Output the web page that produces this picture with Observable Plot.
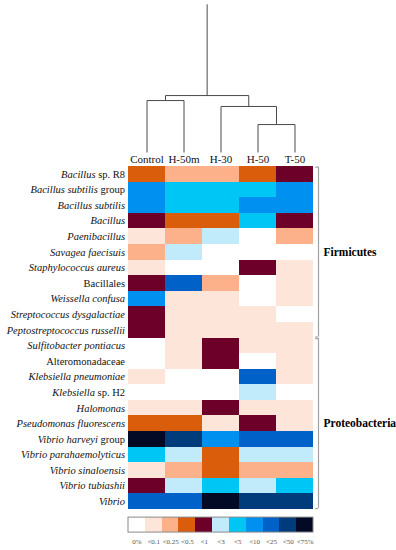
<!DOCTYPE html>
<html><head><meta charset="utf-8">
<script src="https://cdn.jsdelivr.net/npm/d3@7"></script>
<script src="https://cdn.jsdelivr.net/npm/@observablehq/plot@0.6"></script>
<style>html,body{margin:0;padding:0;background:#fff;} #chart{width:396px;height:550px;overflow:hidden;}
#chart svg text{font-family:"Liberation Serif","Times New Roman",serif;}</style>
</head><body><div id="chart"></div>
<script>
// ---- data ----
const samples = ["Control", "H-50m", "H-30", "H-50", "T-50"];
const taxaItalic = ["Bacillus", "Bacillus subtilis", "Bacillus subtilis", "Bacillus", "Paenibacillus",
  "Savagea faecisuis", "Staphylococcus aureus", "", "Weissella confusa", "Streptococcus dysgalactiae",
  "Peptostreptococcus russellii", "Sulfitobacter pontiacus", "", "Klebsiella pneumoniae", "Klebsiella",
  "Halomonas", "Pseudomonas fluorescens", "Vibrio harveyi", "Vibrio parahaemolyticus", "Vibrio sinaloensis",
  "Vibrio tubiashii", "Vibrio"];
const taxaSuffix = [" sp. R8", " group", "", "", "", "", "", "Bacillales", "", "", "", "", "Alteromonadaceae",
  "", " sp. H2", "", "", " group", "", "", "", ""];
const abundanceLevels = ["0%", "<0.1", "<0.25", "<0.5", "<1", "<3", "<5", "<10", "<25", "<50", "<75%"];
const levelColors = ["#ffffff", "#fde6d9", "#fdb18a", "#da5d0c", "#6c0028", "#c1ebfb", "#00c6f6",
  "#0090f0", "#0061c9", "#003b7c", "#020a26"];
// abundance class index (into abundanceLevels) per taxon, one array per sample
const levelControl = [3, 7, 7, 4, 1, 2, 1, 4, 7, 4, 4, 0, 0, 1, 0, 1, 3, 10, 6, 1, 4, 8];
const levelH50m    = [2, 6, 6, 3, 2, 5, 0, 8, 1, 1, 1, 1, 1, 0, 0, 1, 3, 9, 5, 2, 5, 8];
const levelH30     = [2, 6, 6, 3, 5, 0, 0, 2, 1, 1, 1, 4, 4, 0, 0, 4, 1, 7, 3, 3, 6, 10];
const levelH50     = [3, 6, 7, 6, 0, 0, 4, 0, 0, 1, 1, 1, 0, 8, 5, 1, 4, 8, 5, 2, 5, 9];
const levelT50     = [4, 7, 7, 4, 2, 0, 1, 1, 1, 0, 1, 1, 1, 1, 0, 1, 1, 8, 5, 2, 6, 9];
const phyla = ["Firmicutes", "Proteobacteria"];
const phylumStart = [0, 11];
const phylumEnd = [11, 22];
// dendrogram (relative linkage heights)
const clusterIds = ["A", "B", "C", "root"];
const clusterLeft = ["Control", "H-50", "H-30", "A"];
const clusterRight = ["H-50m", "T-50", "B", "C"];
const clusterHeight = [3.33, 1.79, 2.95, 3.65];
const rootStemHeight = 9.5;

// ---- build ----
const serif = "Liberation Serif";
const taxa = taxaItalic.map((t, i) => ({i, name: t + taxaSuffix[i]}));
const sampleLevels = [levelControl, levelH50m, levelH30, levelH50, levelT50];
const cells = [];
sampleLevels.forEach((arr, c) => arr.forEach((lv, r) => cells.push({c, r, lv})));
const groups = phyla.map((p, i) => ({name: p, start: phylumStart[i], end: phylumEnd[i]}));

const leafTop = -0.9;
const nodes = new Map(samples.map((s, i) => [s, {x: i + 0.5, h: 0}]));
const segs = [];
clusterIds.forEach((id, k) => {
  const L = nodes.get(clusterLeft[k]), R = nodes.get(clusterRight[k]), h = clusterHeight[k];
  segs.push({x1: L.x, x2: L.x, h1: L.h, h2: h});
  segs.push({x1: R.x, x2: R.x, h1: R.h, h2: h});
  segs.push({x1: L.x, x2: R.x, h1: h, h2: h});
  nodes.set(id, {x: (L.x + R.x) / 2, h});
});
const root = nodes.get("root");
segs.push({x1: root.x, x2: root.x, h1: root.h, h2: rootStemHeight});

const nL = abundanceLevels.length;
const legendTop = 22.52, legendBottom = 23.48;
const legend = abundanceLevels.map((l, i) => ({i, l}));

const plot = Plot.plot({
  width: 396, height: 550,
  marginTop: 166, marginBottom: 41, marginLeft: 128, marginRight: 83,
  x: {domain: [0, 5], axis: null},
  y: {domain: [0, 22], reverse: true, axis: null},
  color: {type: "ordinal", domain: d3.range(nL), range: levelColors},
  style: {background: "#fff", color: "#000"},
  marks: [
    Plot.rect(cells, {x1: d => d.c, x2: d => d.c + 1, y1: d => d.r, y2: d => d.r + 1, fill: d => d.lv,
      inset: 0, shapeRendering: "crispEdges"}),
    Plot.link(segs, {x1: "x1", x2: "x2", y1: d => leafTop - d.h1, y2: d => leafTop - d.h2,
      stroke: "#4a4a4a", strokeWidth: 1}),
    Plot.text(samples, {x: (d, i) => i + 0.5, y: 0, dy: -7, text: d => d, fontSize: 11, fill: "#111",
      fontFamily: serif}),
    Plot.text(taxa, {x: 0, y: d => d.i + 0.5, dx: -3.5, text: "name", textAnchor: "end", fontSize: 10.5,
      fill: "#111", fontFamily: serif}),
    Plot.ruleX(groups, {x: 5, y1: d => d.start + 0.04, y2: d => d.end - 0.06, dx: 5, stroke: "#a0a0a0", strokeWidth: 1.2}),
    Plot.ruleY(groups, {y: d => d.start + 0.04, x1: 5.06, x2: 5.135, stroke: "#a0a0a0", strokeWidth: 1.2}),
    Plot.ruleY(groups, {y: d => d.end - 0.06, x1: 5.06, x2: 5.135, stroke: "#a0a0a0", strokeWidth: 1.2}),
    Plot.text(groups, {x: 5, y: d => (d.start + d.end) / 2, dx: 10, text: "name", textAnchor: "start",
      fontWeight: "bold", fontSize: 11.5, fill: "#000", fontFamily: serif}),
    Plot.rect(legend, {x1: d => d.i * 5 / nL, x2: d => (d.i + 1) * 5 / nL, y1: legendTop, y2: legendBottom,
      fill: "i", inset: 0, shapeRendering: "crispEdges"}),
    Plot.rect([0], {x1: 0, x2: 5, y1: legendTop, y2: legendBottom, fill: "none", stroke: "#8a8a8a", strokeWidth: 1}),
    Plot.text(legend, {x: d => (d.i + 0.5) * 5 / nL, y: 24.1, text: "l", fontSize: 7, fill: "#555", fontFamily: serif})
  ]
});
document.getElementById("chart").appendChild(plot);
// mixed italic / upright taxon names
const nameIndex = new Map(taxa.map(t => [t.name, t.i]));
d3.select(plot).selectAll("text").each(function() {
  const i = nameIndex.get(this.textContent);
  if (i === undefined) return;
  const t = d3.select(this).style("white-space", "pre");
  t.text(null);
  if (taxaItalic[i]) t.append("tspan").attr("font-style", "italic").text(taxaItalic[i]);
  if (taxaSuffix[i]) t.append("tspan").text(taxaSuffix[i]);
});
</script>
</body></html>
